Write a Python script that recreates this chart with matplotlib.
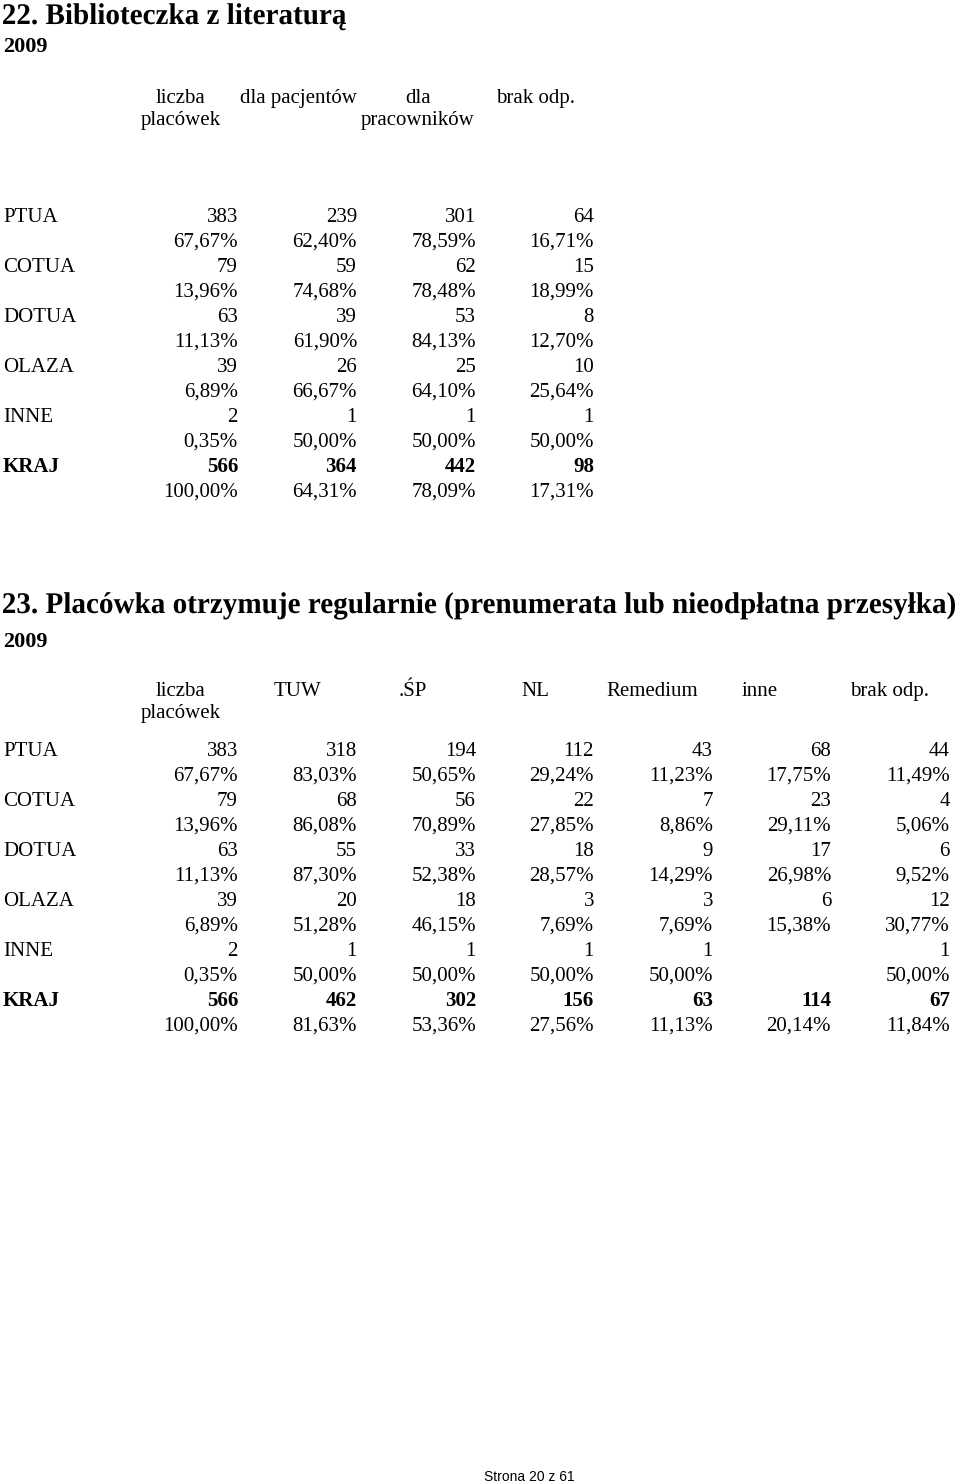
import matplotlib
matplotlib.use("Agg")
import matplotlib.pyplot as plt
from matplotlib.textpath import TextPath
from matplotlib.patches import PathPatch
from matplotlib.font_manager import FontProperties
from matplotlib.transforms import Affine2D

# ---------------- data ----------------
regions = ["PTUA", "COTUA", "DOTUA", "OLAZA", "INNE", "KRAJ"]
n_units = [383, 79, 63, 39, 2, 566]
n_share = [67.67, 13.96, 11.13, 6.89, 0.35, 100.00]

# table 22: library with literature
t1_headers = [("liczba", "placówek"), ("dla pacjentów", ""), ("dla", "pracowników"), ("brak odp.", "")]
t1_patients = [239, 59, 39, 26, 1, 364]
t1_patients_pct = [62.40, 74.68, 61.90, 66.67, 50.00, 64.31]
t1_staff = [301, 62, 53, 25, 1, 442]
t1_staff_pct = [78.59, 78.48, 84.13, 64.10, 50.00, 78.09]
t1_none = [64, 15, 8, 10, 1, 98]
t1_none_pct = [16.71, 18.99, 12.70, 25.64, 50.00, 17.31]

# table 23: periodicals received
t2_headers = [("liczba", "placówek"), ("TUW", ""), (".ŚP", ""), ("NL", ""), ("Remedium", ""), ("inne", ""), ("brak odp.", "")]
t2_tuw = [318, 68, 55, 20, 1, 462]
t2_tuw_pct = [83.03, 86.08, 87.30, 51.28, 50.00, 81.63]
t2_sp = [194, 56, 33, 18, 1, 302]
t2_sp_pct = [50.65, 70.89, 52.38, 46.15, 50.00, 53.36]
t2_nl = [112, 22, 18, 3, 1, 156]
t2_nl_pct = [29.24, 27.85, 28.57, 7.69, 50.00, 27.56]
t2_rem = [43, 7, 9, 3, 1, 63]
t2_rem_pct = [11.23, 8.86, 14.29, 7.69, 50.00, 11.13]
t2_other = [68, 23, 17, 6, None, 114]
t2_other_pct = [17.75, 29.11, 26.98, 15.38, None, 20.14]
t2_none = [44, 4, 6, 12, 1, 67]
t2_none_pct = [11.49, 5.06, 9.52, 30.77, 50.00, 11.84]

# ---------------- layout ----------------
W, H = 960, 1484
SERIF = "Liberation Serif"
FS = 15          # body text size (pt)
ROW = 25         # row pitch in px
col_right = [238, 357, 476, 594, 713, 831, 950]
t1_hdr_x = [181, 298, 418, 536]
t2_hdr_x = [181, 297, 413, 535, 652, 760, 890]


def pct(v):
    return "" if v is None else f"{v:.2f}".replace(".", ",") + "%"


def num(v):
    return "" if v is None else str(v)


fig = plt.figure(figsize=(W / 100, H / 100), dpi=100)
fig.patch.set_facecolor("white")
ax = fig.add_axes([0, 0, 1, 1])
ax.set_xlim(0, W)
ax.set_ylim(H, 0)
ax.axis("off")


def condensed_heading(s, x0, baseline, size_px, width_px):
    fp = FontProperties(family=SERIF, weight="bold")
    tp = TextPath((0, 0), s, size=size_px, prop=fp)
    ext = tp.get_extents()
    sx = width_px / ext.width
    tr = Affine2D().translate(-ext.x0, 0).scale(sx, -1).translate(x0, baseline) + ax.transData
    ax.add_patch(PathPatch(tp, transform=tr, facecolor="black", edgecolor="none", lw=0))


def draw_table(header_y, first_row_y, headers, hdr_x, cols):
    for (h1, h2), x in zip(headers, hdr_x):
        ax.text(x, header_y, h1, ha="center", va="baseline", family=SERIF, fontsize=FS)
        if h2:
            ax.text(x, header_y + 22, h2, ha="center", va="baseline", family=SERIF, fontsize=FS)
    for i, reg in enumerate(regions):
        y = first_row_y + 2 * i * ROW
        bold = "bold" if reg == "KRAJ" else "normal"
        ax.text(3, y, reg, ha="left", va="baseline", family=SERIF, fontsize=FS, weight=bold)
        for (counts, pcts), xr in zip(cols, col_right):
            ax.text(xr, y, num(counts[i]), ha="right", va="baseline",
                    family=SERIF, fontsize=FS, weight=bold)
            ax.text(xr, y + ROW, pct(pcts[i]), ha="right", va="baseline",
                    family=SERIF, fontsize=FS)


# section 22
condensed_heading("22. Biblioteczka z literaturą", 3, 24, 30, 343)
ax.text(3, 52, "2009", ha="left", va="baseline", family=SERIF, fontsize=16, weight="bold")
draw_table(103, 221.5, t1_headers, t1_hdr_x,
           [(n_units, n_share), (t1_patients, t1_patients_pct),
            (t1_staff, t1_staff_pct), (t1_none, t1_none_pct)])

# section 23
condensed_heading("23. Placówka otrzymuje regularnie (prenumerata lub nieodpłatna przesyłka)",
                  3, 613, 30, 952)
ax.text(3, 647, "2009", ha="left", va="baseline", family=SERIF, fontsize=16, weight="bold")
draw_table(696, 756, t2_headers, t2_hdr_x,
           [(n_units, n_share), (t2_tuw, t2_tuw_pct), (t2_sp, t2_sp_pct),
            (t2_nl, t2_nl_pct), (t2_rem, t2_rem_pct), (t2_other, t2_other_pct),
            (t2_none, t2_none_pct)])

# footer
ax.text(529, 1481, "Strona 20 z 61", ha="center", va="baseline",
        family="Liberation Sans", fontsize=10)

fig.savefig("out.png", dpi=100, facecolor="white")
